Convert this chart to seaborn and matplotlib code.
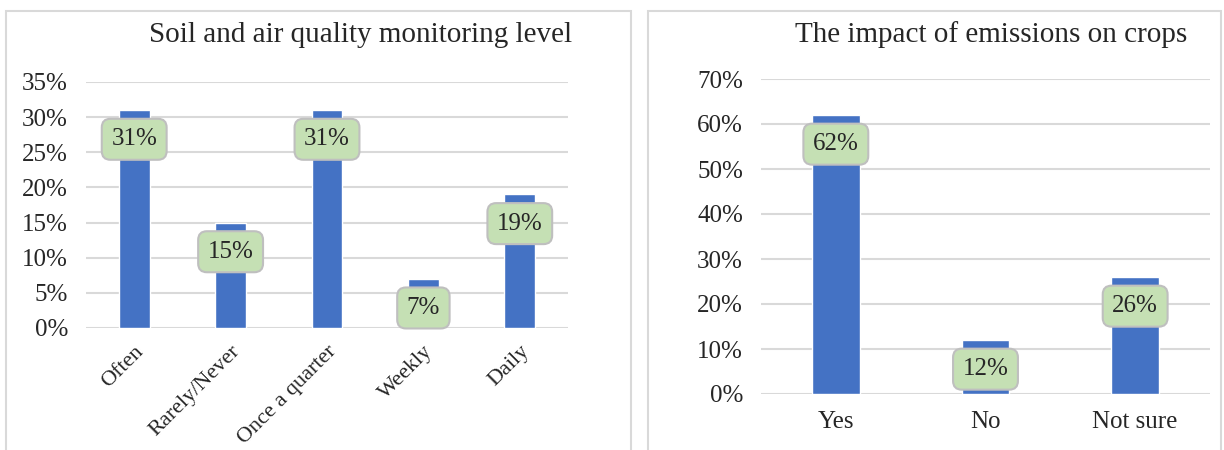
import matplotlib
matplotlib.use('Agg')
import matplotlib.pyplot as plt
import seaborn as sns
from matplotlib.patches import Rectangle
from matplotlib.ticker import PercentFormatter

# Data
monitor_cats = ['Often', 'Rarely/Never', 'Once a quarter', 'Weekly', 'Daily']
monitor_vals = [31, 15, 31, 7, 19]
impact_cats = ['Yes', 'No', 'Not sure']
impact_vals = [62, 12, 26]

sns.set_style('white')
plt.rcParams['font.family'] = ['Liberation Serif', 'DejaVu Serif']

bar_color = '#4472C4'
grid_color = '#D9D9D9'

fig = plt.figure(figsize=(12.24, 4.5), dpi=100)

# Panel frames
for x0, x1 in [(6, 631), (648, 1221)]:
    fig.patches.append(Rectangle((x0 / 1224, -0.01), (x1 - x0) / 1224, 1 - 11 / 450 + 0.01,
                                 transform=fig.transFigure, fill=False,
                                 edgecolor='#D9D9D9', linewidth=1.5))


def draw(ax, cats, vals, ymax, step, title, title_x, rot):
    sns.barplot(x=cats, y=vals, ax=ax, color=bar_color, saturation=1, width=0.32)
    ax.set_ylim(0, ymax)
    ax.set_yticks(range(0, ymax + 1, step))
    ax.yaxis.set_major_formatter(PercentFormatter(decimals=0))
    ax.grid(axis='y', color=grid_color, linewidth=1.5)
    ax.set_axisbelow(True)
    sns.despine(ax=ax, left=True, bottom=True)
    ax.tick_params(axis='y', length=0, labelsize=18, pad=13)
    ax.set_xlabel('')
    ax.set_ylabel('')
    if rot:
        ax.tick_params(axis='x', length=0, labelsize=16, pad=10)
        plt.setp(ax.get_xticklabels(), rotation=45, ha='right', rotation_mode='anchor')
    else:
        ax.tick_params(axis='x', length=0, labelsize=18, pad=12)
    for i, v in enumerate(vals):
        ax.annotate(f'{v}%', xy=(i, v), xytext=(0, -21), textcoords='offset points',
                    ha='center', va='center', fontsize=18,
                    bbox=dict(boxstyle='round,pad=0.38,rounding_size=0.35',
                              fc='#C5E0B4', ec='#BFBFBF', lw=1.5))
    fig.text(title_x, 1 - 35 / 450, title, ha='center', va='center', fontsize=21)


ax1 = fig.add_axes([86 / 1224, 1 - 328 / 450, (568 - 86) / 1224, (328 - 82) / 450])
draw(ax1, monitor_cats, monitor_vals, 35, 5, 'Soil and air quality monitoring level', 361 / 1224, True)

ax2 = fig.add_axes([761 / 1224, 1 - 394 / 450, (1210 - 761) / 1224, (394 - 79) / 450])
draw(ax2, impact_cats, impact_vals, 70, 10, 'The impact of emissions on crops', 991 / 1224, False)

fig.savefig('out.png', dpi=100)
